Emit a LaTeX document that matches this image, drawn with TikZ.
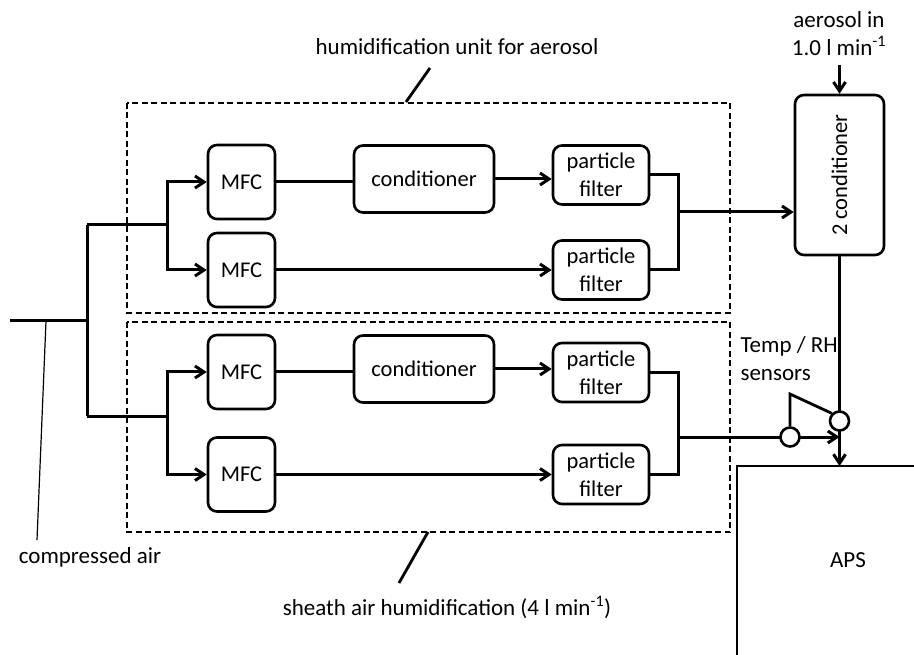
\documentclass[tikz,border=0pt]{standalone}
\usepackage{fontspec}
\setmainfont{Carlito}
\usetikzlibrary{arrows.meta}

\begin{document}
\begin{tikzpicture}[x=1pt,y=-1pt,
    box/.style={draw,line width=2.6pt,rounded corners=9pt,inner sep=0pt,
        align=center,font=\fontsize{22.5}{28}\selectfont},
    pipe/.style={line width=3pt},
    flow/.style={pipe,-{Straight Barb[length=9pt,width=12pt]}},
    unit/.style={line width=2.6pt,dash pattern=on 6pt off 3.5pt},
    lead/.style={line width=2.8pt},
    sensor/.style={circle,draw,line width=2.6pt,fill=white,minimum size=19pt,inner sep=0pt},
    lbl/.style={font=\fontsize{23}{28}\selectfont,align=center}]
    \useasboundingbox (0,0) rectangle (914,655);

    % humidification units
    \draw[unit] (127,103) rectangle (730,313);
    \draw[unit] (127,322) rectangle (730,532);

    % boxes
    \node[box,minimum width=67pt,minimum height=74pt] (mfc1) at (241.5,182) {MFC};
    \node[box,minimum width=67pt,minimum height=74pt] (mfc2) at (241.5,270) {MFC};
    \node[box,minimum width=67pt,minimum height=74pt] (mfc3) at (241.5,372) {MFC};
    \node[box,minimum width=67pt,minimum height=74pt] (mfc4) at (241.5,474.5) {MFC};
    \node[box,minimum width=140pt,minimum height=67pt] (cond1) at (424,179) {conditioner};
    \node[box,minimum width=140pt,minimum height=67pt] (cond2) at (424,369) {conditioner};
    \node[box,minimum width=96pt,minimum height=59pt] (pf1) at (601,175) {particle\\filter};
    \node[box,minimum width=96pt,minimum height=59pt] (pf2) at (601,270) {particle\\filter};
    \node[box,minimum width=96pt,minimum height=59pt] (pf3) at (601,372.5) {particle\\filter};
    \node[box,minimum width=96pt,minimum height=59pt] (pf4) at (601,474.5) {particle\\filter};
    \node[box,minimum width=89pt,minimum height=160pt] (cond3) at (839.5,175) {};
    \node[rotate=90,font=\fontsize{22.5}{28}\selectfont] at (cond3) {2 conditioner};

    % compressed air feed
    \coordinate (air) at (10,321);
    \coordinate (tee) at (87,321);
    \coordinate (ta) at (87,225);
    \coordinate (tb) at (87,416);
    \coordinate (ja) at (167,225);
    \coordinate (jb) at (167,416);
    \draw[pipe] (air) -- (tee);
    \draw[pipe] (ta) -- (tb);
    \draw[pipe] (ta) -- (ja);
    \draw[pipe] (tb) -- (jb);
    \draw[flow] (ja) |- (mfc1);
    \draw[flow] (ja) |- (mfc2);
    \draw[flow] (jb) |- (mfc3);
    \draw[flow] (jb) |- (mfc4);

    % aerosol line
    \draw[pipe] (mfc1.east) -- (mfc1.east -| cond1.west);
    \draw[flow] (cond1.east) -- (cond1.east -| pf1.west);
    \draw[flow] (mfc2) -- (pf2);
    \coordinate (mx1) at (678,212);
    \draw[pipe] (pf1.east) -| (mx1) |- (pf2.east);
    \draw[flow] (mx1) -- (mx1 -| cond3.west);

    % sheath air line
    \draw[pipe] (mfc3.east) -- (mfc3.east -| cond2.west);
    \draw[flow] (cond2.east) -- (cond2.east -| pf3.west);
    \draw[flow] (mfc4) -- (pf4);
    \coordinate (mx2) at (678,437);
    \draw[pipe] (pf3.east) -| (mx2) |- (pf4.east);

    % aerosol inlet and APS
    \coordinate (aerin) at (839.5,65);
    \coordinate (apsin) at (839.5,466);
    \draw[flow] (aerin) -- (cond3.north);
    \draw[flow] (cond3.south) -- (apsin);
    \draw[flow] (mx2) -- (apsin |- mx2);
    \draw[line width=2.4pt] (737,655) -- (737,466) -- (914,466);
    \node[lbl] (aps) at (848,560) {APS};

    % sensors
    \node[sensor] (rh1) at (790,437) {};
    \node[sensor] (rh2) at (839.5,421) {};
    \coordinate (kink) at (790,394);
    \draw[lead] (rh1.north) -- (kink) -- (rh2.north west);
    \node[lbl,align=left,anchor=north west] (rhl) at (737,333) {Temp / RH\\sensors};

    % labels
    \node[lbl] (ain) at (839,34) {aerosol in\\1.0 l min\textsuperscript{-1}};
    \node[lbl] (hlbl) at (457,47) {humidification unit for aerosol};
    \node[lbl] (slbl) at (447,607) {sheath air humidification (4 l min\textsuperscript{-1})};
    \node[lbl] (clbl) at (90,557) {compressed air};
    \coordinate (h0) at (406,102);
    \coordinate (h1) at (430,68);
    \coordinate (s0) at (428,532);
    \coordinate (s1) at (399,583);
    \coordinate (c0) at (46,321);
    \coordinate (c1) at (37,540);
    \draw[lead] (h0) -- (h1);
    \draw[lead] (s0) -- (s1);
    \draw[line width=1.2pt] (c0) -- (c1);
\end{tikzpicture}
\end{document}
